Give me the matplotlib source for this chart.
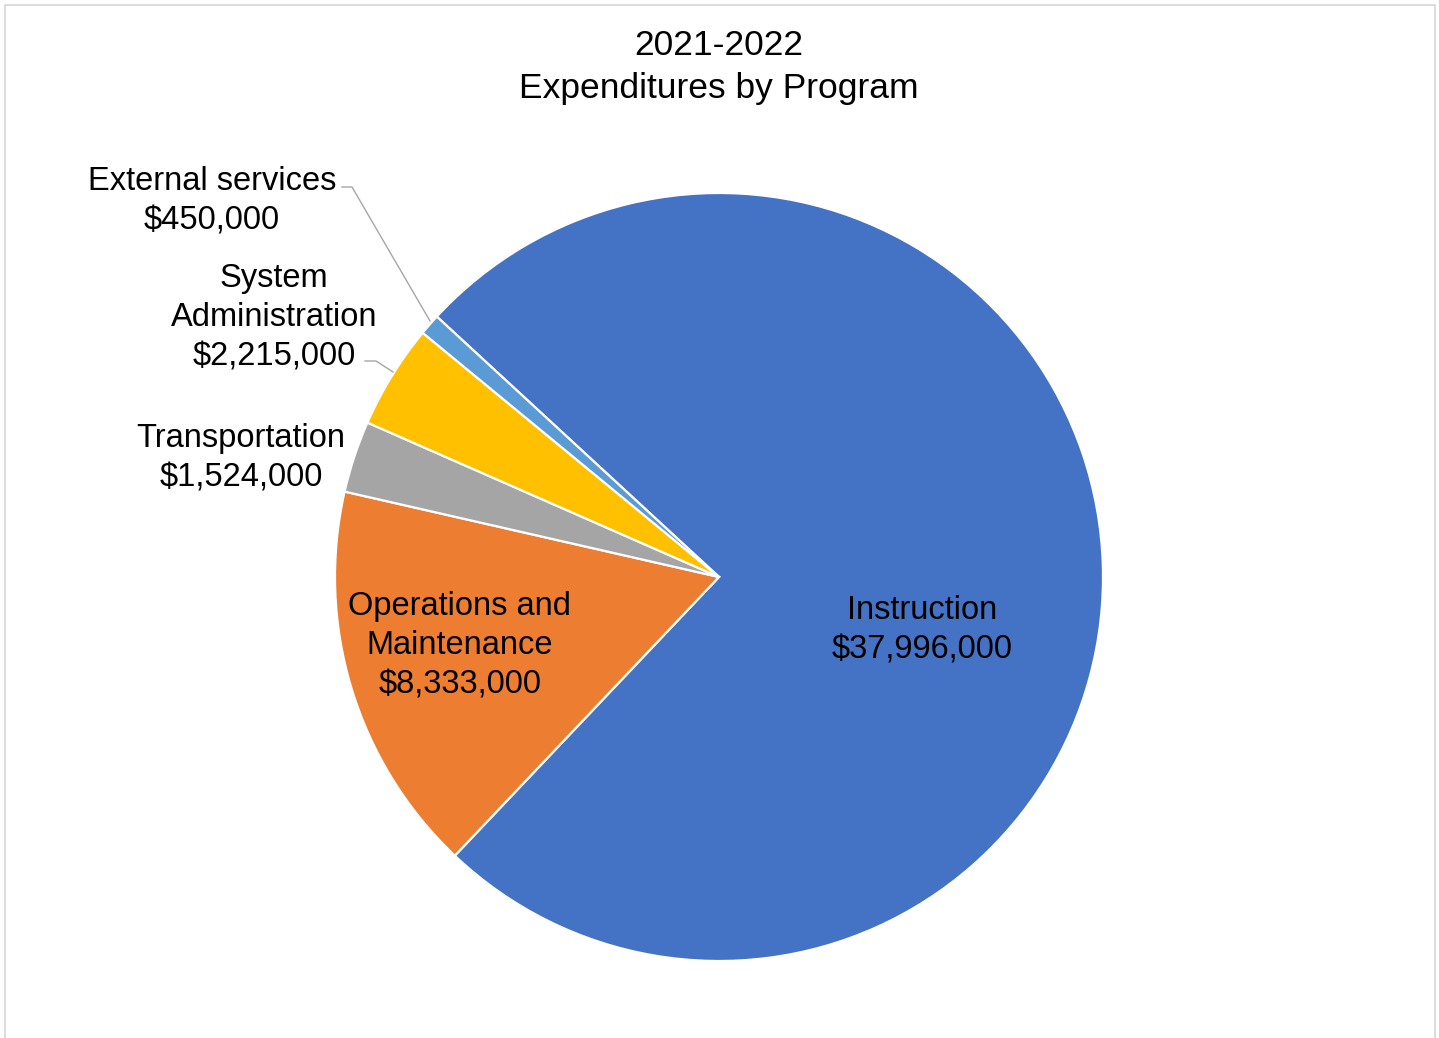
import matplotlib
matplotlib.use("Agg")
import matplotlib.pyplot as plt
from matplotlib.lines import Line2D

plt.rcParams['font.family'] = ['Liberation Sans', 'DejaVu Sans']

# ---- data ----
programs = ["Instruction", "Operations and\nMaintenance", "Transportation",
            "System\nAdministration", "External services"]
values = [37996000, 8333000, 1524000, 2215000, 450000]
colors = ["#4472C4", "#ED7D31", "#A5A5A5", "#FFC000", "#5B9BD5"]
title_lines = ["2021-2022", "Expenditures by Program"]

W, H = 1439, 1038
fig = plt.figure(figsize=(W / 100, H / 100), dpi=100)
ax = fig.add_axes([0, 0, 1, 1])
ax.set_xlim(0, W)
ax.set_ylim(0, H)
ax.set_aspect('equal')
ax.axis('off')

cx, cy, r = 719, H - 577, 384
wedges, _ = ax.pie(values, colors=colors, startangle=137.3, counterclock=False,
                   center=(cx, cy), radius=r, frame=True,
                   wedgeprops=dict(edgecolor='white', linewidth=1.6))
ax.set_xlim(0, W)
ax.set_ylim(0, H)
ax.axis('off')

# label positions (pixel coords, centre of text block)
label_pos = [(922, 630), (460, 646), (241, 458), (274, 318), (212, 201)]
fs = 23.5
for name, val, (lx, ly) in zip(programs, values, label_pos):
    ax.text(lx, H - ly, f"{name}\n${val:,}", ha='center', va='center',
            multialignment='center', fontsize=fs, linespacing=1.34, color='black')

# leader lines
lc = '#A6A6A6'
ax.add_line(Line2D([342, 352, 430], [H - 187, H - 187, H - 321], color=lc, lw=1.0))
ax.add_line(Line2D([365, 376, 393], [H - 361, H - 361, H - 372], color=lc, lw=1.0))

fig.text(719 / W, 1 - 67 / H, "\n".join(title_lines), ha='center', va='center',
         fontsize=25.5, linespacing=1.42, color='black')

# chart border
fig.add_artist(Line2D([4.5 / W, 4.5 / W, 1434.5 / W, 1434.5 / W],
                      [0, 1 - 4.5 / H, 1 - 4.5 / H, 0],
                      transform=fig.transFigure, color='#D9D9D9', lw=1.3))

fig.savefig("out.png", dpi=100, facecolor='white')
